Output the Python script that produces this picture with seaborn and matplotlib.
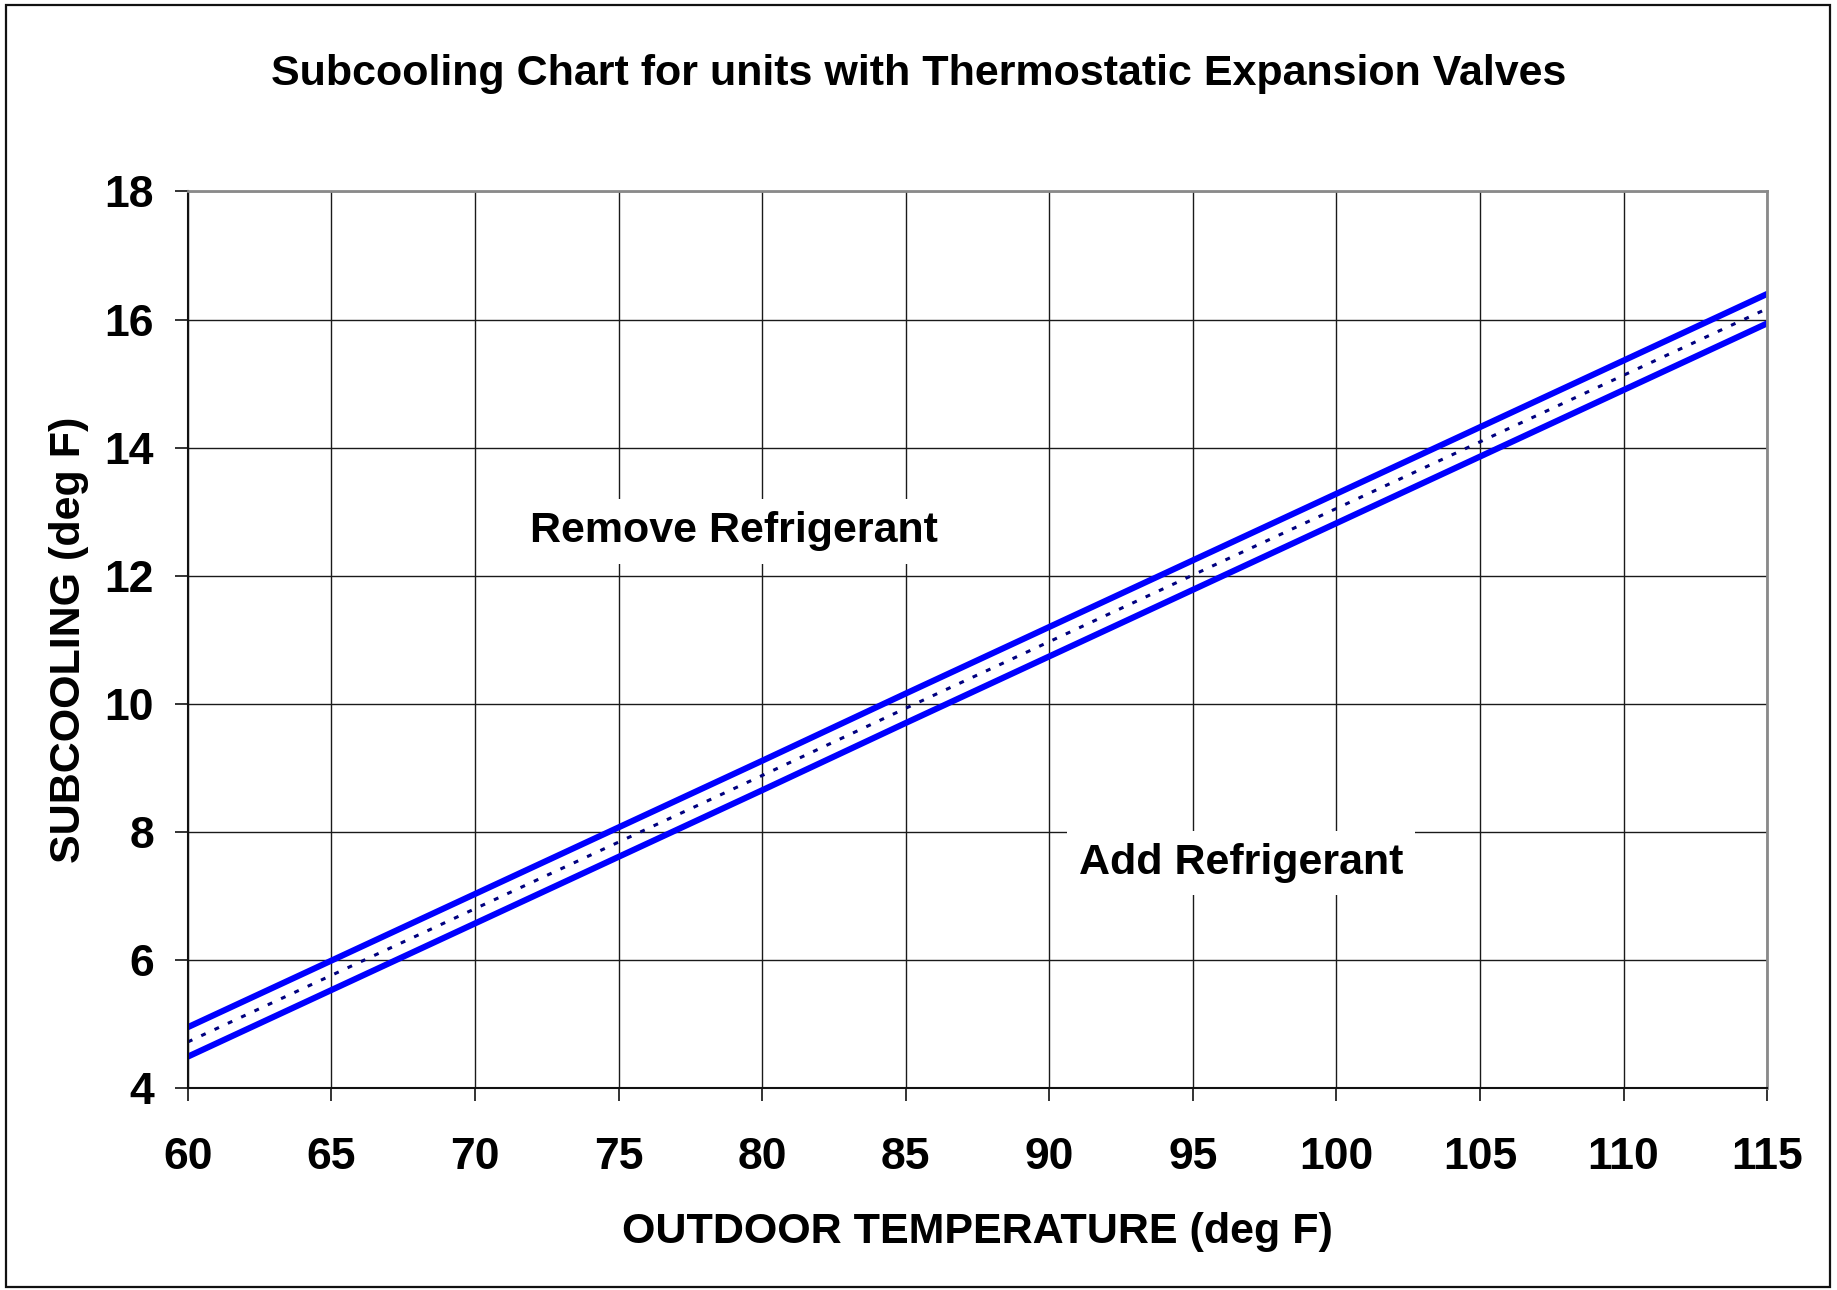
import pandas as pd
import numpy as np
import seaborn as sns
import matplotlib.pyplot as plt
from matplotlib.patches import Rectangle

# outdoor temperature (deg F)
TEMPS = [60, 65, 70, 75, 80, 85, 90, 95, 100, 105, 110, 115]
# subcooling (deg F)
UPPER = [4.95, 5.99, 7.03, 8.07, 9.11, 10.16, 11.20, 12.24, 13.28, 14.32, 15.36, 16.40]
TARGET = [4.72, 5.76, 6.80, 7.84, 8.88, 9.93, 10.97, 12.01, 13.05, 14.09, 15.13, 16.17]
LOWER = [4.49, 5.53, 6.57, 7.61, 8.65, 9.70, 10.74, 11.78, 12.82, 13.86, 14.90, 15.94]

X_TICKS = [60, 65, 70, 75, 80, 85, 90, 95, 100, 105, 110, 115]
Y_TICKS = [4, 6, 8, 10, 12, 14, 16, 18]

sns.set_theme(style="white")
plt.rcParams['font.family'] = ['Liberation Sans', 'DejaVu Sans']
plt.rcParams['font.weight'] = 'bold'
plt.rcParams['text.color'] = 'black'
plt.rcParams['axes.labelcolor'] = 'black'
plt.rcParams['xtick.color'] = 'black'
plt.rcParams['ytick.color'] = 'black'

df = pd.DataFrame({"temp": TEMPS, "upper": UPPER, "target": TARGET, "lower": LOWER})

fig = plt.figure(figsize=(18.37, 12.9), dpi=100)
ax = fig.add_axes([0.1023, 0.1566, 0.8597, 0.695])

sns.lineplot(data=df, x="temp", y="upper", ax=ax, color="#0000ff", linewidth=4.4)
sns.lineplot(data=df, x="temp", y="lower", ax=ax, color="#0000ff", linewidth=4.4)
sns.lineplot(data=df, x="temp", y="target", ax=ax, color="#000080", linewidth=2.2,
             linestyle=(0, (1.6, 3.2)))

ax.set_xlim(60, 115)
ax.set_ylim(4, 18)
ax.set_xticks(X_TICKS)
ax.set_yticks(Y_TICKS)
ax.grid(True, color="#1a1a1a", linewidth=1.0)
ax.set_axisbelow(True)

for side in ["left", "bottom"]:
    ax.spines[side].set_color("#111111")
    ax.spines[side].set_linewidth(1.5)
for side in ["top", "right"]:
    ax.spines[side].set_color("#8a8a8a")
    ax.spines[side].set_linewidth(2.0)

ax.tick_params(axis="both", which="major", direction="out", length=9.5, width=1.2,
               color="#111111", labelsize=32, labelcolor="black")
ax.tick_params(axis="x", pad=26, bottom=True)
ax.tick_params(axis="y", pad=15, left=True)
for lab in ax.get_xticklabels() + ax.get_yticklabels():
    lab.set_fontweight("bold")

ax.set_xlabel("OUTDOOR TEMPERATURE (deg F)", fontsize=31, fontweight="bold", labelpad=24)
ax.set_ylabel("SUBCOOLING (deg F)", fontsize=31, fontweight="bold", labelpad=11)

box = dict(boxstyle="square,pad=0.28", facecolor="white", edgecolor="none")
ax.text(79.0, 12.69, "Remove Refrigerant", fontsize=31, fontweight="bold",
        ha="center", va="center", bbox=box, zorder=3)
ax.text(96.67, 7.51, "Add Refrigerant", fontsize=31, fontweight="bold",
        ha="center", va="center", bbox=box, zorder=3)

fig.text(0.5, 0.943, "Subcooling Chart for units with Thermostatic Expansion Valves",
         fontsize=31, fontweight="bold", ha="center", va="center")

# outer frame around the whole chart
fig.patches.append(Rectangle((0.0031, 0.0023), 0.993, 0.9936, transform=fig.transFigure,
                             fill=False, edgecolor="#111111", linewidth=1.6))

fig.savefig("out.png", dpi=100)
